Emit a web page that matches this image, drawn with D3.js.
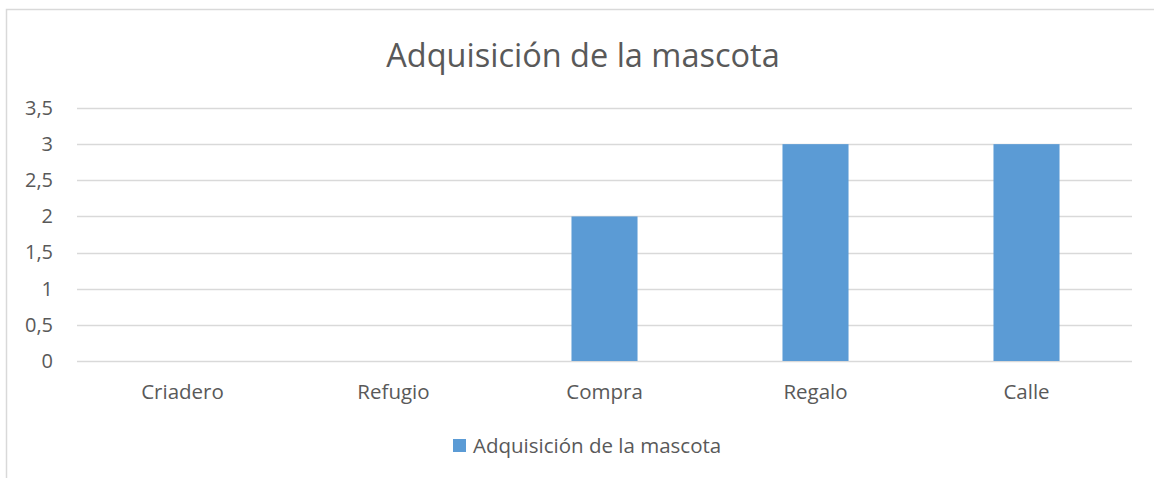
<html>
<script src='https://d3js.org/d3.v7.min.js'></script>
<style>
  body { margin: 0; background: #fff; }
  text { font-family: 'Open Sans', 'Noto Sans', sans-serif; fill: #595959; }
</style>
<body onload='init()'>
<svg width=1154 height=478></svg>
<script>
// Data
const categories = ['Criadero', 'Refugio', 'Compra', 'Regalo', 'Calle']
const values = [0, 0, 2, 3, 3]
const yTicks = [0, 0.5, 1, 1.5, 2, 2.5, 3, 3.5]
const seriesName = 'Adquisición de la mascota'

function init() {
    const svg = d3.select('svg')
    const left = 77, right = 1132, top = 108, bottom = 361

    // chart frame (only top and left edges visible)
    svg.append('path')
        .attr('d', 'M6.5,478 L6.5,9.5 L1154,9.5')
        .attr('fill', 'none').attr('stroke', '#d9d9d9').attr('stroke-width', 1.5)

    // Scales
    const x = d3.scaleBand().domain(categories).range([left, right]).paddingInner(0.687).paddingOuter(0.3435)
    const y = d3.scaleLinear().domain([0, 3.5]).range([bottom, top])

    // Gridlines
    svg.append('g')
        .selectAll('line').data(yTicks).enter().append('line')
        .attr('x1', left).attr('x2', right)
        .attr('y1', d => Math.round(y(d)) + 0.5).attr('y2', d => Math.round(y(d)) + 0.5)
        .attr('stroke', '#d9d9d9').attr('stroke-width', 1.5)

    // Y axis labels
    const yAxis = svg.append('g')
        .attr('transform', `translate(${left},0)`)
        .call(d3.axisLeft(y).tickValues(yTicks).tickSize(0).tickPadding(24)
            .tickFormat(d => String(d).replace('.', ',')))
    yAxis.select('.domain').remove()
    yAxis.selectAll('text').style('font-size', '20px').attr('fill', '#595959')
        .style('font-family', "'Open Sans', sans-serif")

    // Bars
    svg.append('g')
        .selectAll('rect').data(values).enter().append('rect')
        .attr('x', (d, i) => x(categories[i]))
        .attr('y', d => y(d))
        .attr('width', x.bandwidth())
        .attr('height', d => y(0) - y(d))
        .attr('fill', '#5b9bd5')

    // X axis labels
    const xAxis = svg.append('g')
        .attr('transform', `translate(0,${bottom})`)
        .call(d3.axisBottom(x).tickSize(0).tickPadding(23))
    xAxis.select('.domain').remove()
    xAxis.selectAll('text').style('font-size', '20.5px').attr('fill', '#595959')
        .style('font-family', "'Open Sans', sans-serif")

    // Title
    svg.append('text')
        .attr('x', 583).attr('y', 67)
        .attr('text-anchor', 'middle')
        .style('font-size', '32.5px')
        .text(seriesName)

    // Legend
    const lg = svg.append('g').attr('transform', 'translate(453,439)')
    lg.append('rect').attr('width', 13).attr('height', 13).attr('fill', '#5b9bd5')
    lg.append('text').attr('x', 20).attr('y', 14).style('font-size', '20.5px').text(seriesName)
}
</script>
</body>
</html>
